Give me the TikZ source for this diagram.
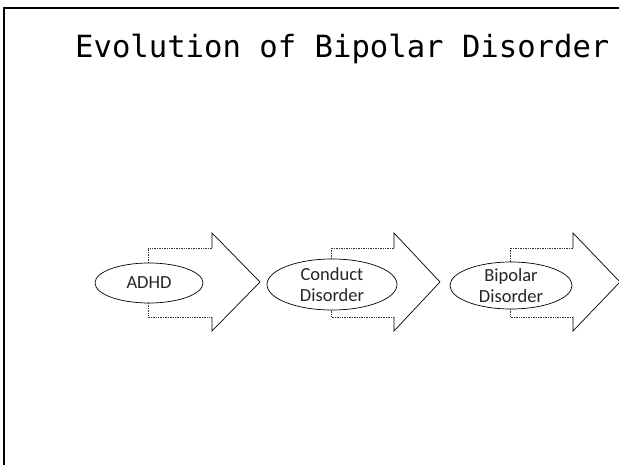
\documentclass[tikz,border=0pt]{standalone}
\usepackage{fontspec}
\setmainfont{Carlito}
\newfontfamily\titlefont{DejaVu Sans Mono}
\usetikzlibrary{shapes.geometric}
\tikzset{
  bubble/.style={draw=black, fill=white, ellipse, line width=0.7pt, inner sep=0pt},
  bubbletext/.style={align=center, font=\fontsize{18.5}{21}\selectfont, inner sep=0pt, text=black!85},
  arrowbody/.style={line width=0.7pt, densely dotted, draw=black!80},
  arrowhead/.style={line width=0.7pt, draw=black, line join=miter},
}
\begin{document}
\begin{tikzpicture}[x=1pt,y=-1pt]
\useasboundingbox (0,0) rectangle (619,465);
\fill[white] (0,0) rectangle (619,465);
% frame
\draw[line width=2pt, black] (4,480) -- (4,8) -- (640,8);
% title
\node[anchor=base west, inner sep=0pt, font=\titlefont\fontsize{30.6}{34}\selectfont] (title) at (75,58) {Evolution of Bipolar Disorder};
% block arrows
\foreach \xa/\xh/\xt [count=\i] in {148/212/260, 331/394/440, 510/573/620}{
  \draw[arrowbody] (\xh,248) -- (\xa,248) -- (\xa,317) -- (\xh,317);
  \draw[arrowhead] (\xh,248) -- (\xh,233) -- (\xt,282) -- (\xh,331) -- (\xh,317);
}
% ellipses
\node[bubble, minimum width=108pt, minimum height=40pt] (e1) at (149,283) {};
\node[bubble, minimum width=130pt, minimum height=51pt] (e2) at (332,284.5) {};
\node[bubble, minimum width=122pt, minimum height=47pt] (e3) at (511,285.5) {};
\node[bubbletext] (t1) at (e1) {ADHD};
\node[bubbletext] (t2) at (e2) {Conduct\\Disorder};
\node[bubbletext] (t3) at (e3) {Bipolar\\Disorder};
\end{tikzpicture}
\end{document}
